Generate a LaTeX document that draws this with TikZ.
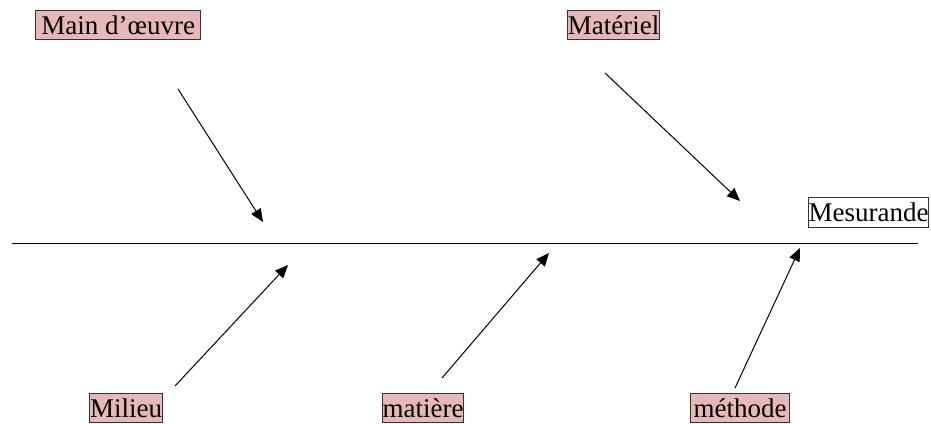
\documentclass[tikz,border=0pt]{standalone}
\usepackage{fontspec}
\setmainfont{Liberation Serif}
\usetikzlibrary{arrows.meta}
\definecolor{boxpink}{RGB}{230,184,183}
\definecolor{boxline}{RGB}{50,50,50}
\tikzset{
  cause/.style={draw=boxline, line width=1.3pt, fill=boxpink, inner sep=0pt, font=\fontsize{27}{30}\selectfont, anchor=north west},
  effect/.style={draw=boxline, line width=1.3pt, fill=white, inner sep=0pt, font=\fontsize{27}{30}\selectfont, anchor=north west},
  branch/.style={line width=1pt, -{Triangle[length=13pt,width=11pt]}},
}
\begin{document}
\begin{tikzpicture}[x=1pt,y=-1pt]
\useasboundingbox (0,0) rectangle (931,423);
% boxes
\node[cause, minimum width=165pt, minimum height=29pt] (mo) at (35,10) {Main d’œuvre};
\node[cause, minimum width=92pt, minimum height=29pt] (mat) at (567,10) {Matériel};
\node[effect, minimum width=119pt, minimum height=30pt] (mes) at (808,197) {Mesurande};
\node[cause, minimum width=73pt, minimum height=29pt] (mil) at (89,393) {Milieu};
\node[cause, minimum width=81pt, minimum height=29pt] (mtr) at (382,393) {matière};
\node[cause, minimum width=99pt, minimum height=29pt] (meth) at (690,393) {méthode};
% spine
\coordinate (sL) at (12,243);
\coordinate (sR) at (918,243);
\draw[line width=1pt] (sL) -- (sR);
% branches
\coordinate (a1s) at (178,89);  \coordinate (a1e) at (263,222);
\coordinate (a2s) at (605,73);  \coordinate (a2e) at (740,201);
\coordinate (a3s) at (175,386); \coordinate (a3e) at (288,265);
\coordinate (a4s) at (442,378); \coordinate (a4e) at (549,253);
\coordinate (a5s) at (735,388); \coordinate (a5e) at (800,248);
\draw[branch] (a1s) -- (a1e);
\draw[branch] (a2s) -- (a2e);
\draw[branch] (a3s) -- (a3e);
\draw[branch] (a4s) -- (a4e);
\draw[branch] (a5s) -- (a5e);
\end{tikzpicture}
\end{document}
